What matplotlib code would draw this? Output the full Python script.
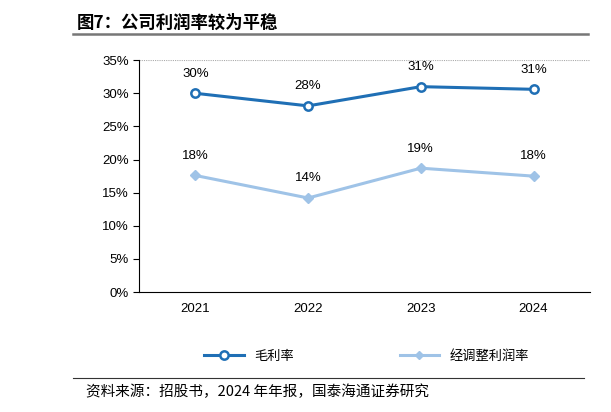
import matplotlib.pyplot as plt
import matplotlib.lines as mlines

plt.rcParams['font.family'] = ['Noto Sans CJK SC', 'DejaVu Sans']

years = ["2021", "2022", "2023", "2024"]
gross_margin = [30.0, 28.1, 31.0, 30.6]
gross_labels = ["30%", "28%", "31%", "31%"]
adj_margin = [17.6, 14.2, 18.7, 17.5]
adj_labels = ["18%", "14%", "19%", "18%"]

fig = plt.figure(figsize=(6.11, 4.12), dpi=100)
ax = fig.add_axes([0.2275, 0.291, 0.738, 0.563])

x = range(len(years))
ax.plot(x, gross_margin, color="#1f6fb5", lw=2.2, marker="o", ms=6,
        mfc="white", mec="#1f6fb5", mew=1.8)
ax.plot(x, adj_margin, color="#9fc3e7", lw=2.2, marker="D", ms=5,
        mfc="#9fc3e7", mec="#9fc3e7")

for i in x:
    ax.annotate(gross_labels[i], (i, gross_margin[i]), xytext=(0, 12),
                textcoords="offset points", ha="center", fontsize=9.5,
                family="Liberation Sans")
    ax.annotate(adj_labels[i], (i, adj_margin[i]), xytext=(0, 12),
                textcoords="offset points", ha="center", fontsize=9.5,
                family="Liberation Sans")

ax.set_xlim(-0.5, 3.5)
ax.set_ylim(0, 35)
ax.set_yticks(range(0, 36, 5))
ax.set_yticklabels([f"{v}%" for v in range(0, 36, 5)], family="Liberation Sans", fontsize=9.5)
ax.set_xticks(list(x))
ax.set_xticklabels(years, family="Liberation Sans", fontsize=9.5)
ax.tick_params(axis="x", length=0, pad=8)
ax.tick_params(axis="y", length=4, direction="out")
for s in ["top", "right"]:
    ax.spines[s].set_visible(False)
ax.axhline(35, color="#aaaaaa", lw=0.8, ls=(0, (1, 1)))

h1 = mlines.Line2D([], [], color="#1f6fb5", lw=2.2, marker="o", ms=6,
                   mfc="white", mec="#1f6fb5", mew=1.8)
h2 = mlines.Line2D([], [], color="#9fc3e7", lw=2.2, marker="D", ms=4)
fig.legend([h1, h2], ["毛利率", "经调整利润率"], loc="center",
           bbox_to_anchor=(0.6, 0.135), ncol=2, frameon=False, fontsize=9.5,
           columnspacing=8, handlelength=3)

fig.text(0.125, 0.945, "图7：公司利润率较为平稳", fontsize=12.5, weight="bold",
         family=["Noto Sans CJK SC"], va="center")
fig.add_artist(mlines.Line2D([0.12, 0.963], [0.918, 0.918], color="#777777", lw=1.8))
fig.add_artist(mlines.Line2D([0.12, 0.955], [0.083, 0.083], color="#333333", lw=0.8))
fig.text(0.14, 0.048, "资料来源：招股书，2024 年年报，国泰海通证券研究",
         fontsize=10.5, va="center", family=["Noto Sans CJK SC"])

fig.savefig("out.png", dpi=100)
